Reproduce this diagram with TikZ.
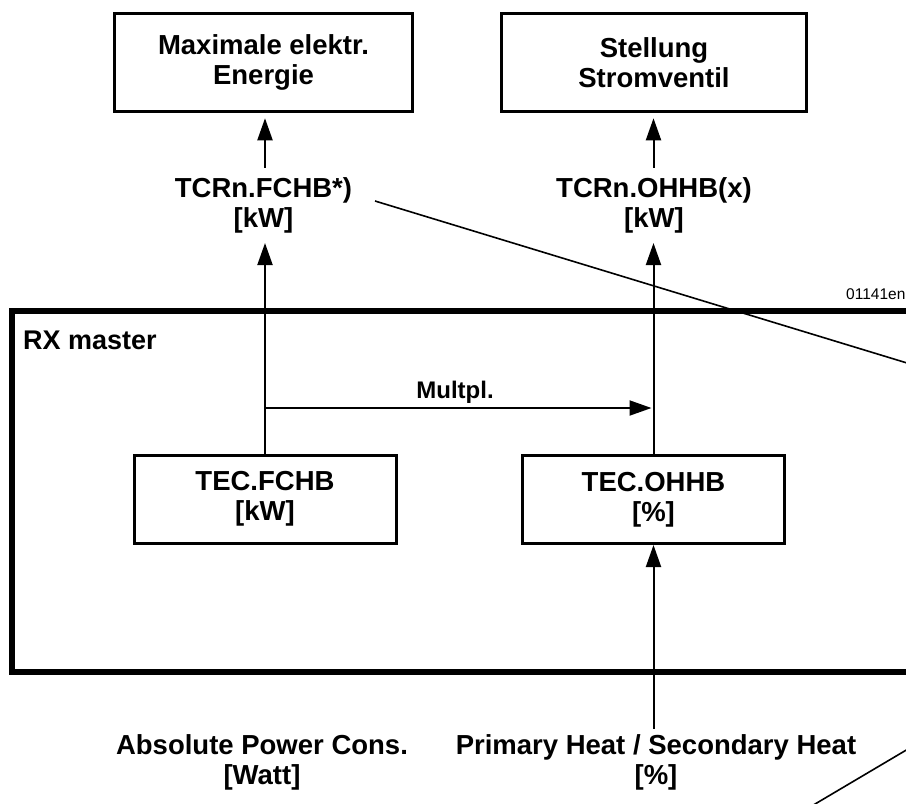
\documentclass[tikz,border=0pt]{standalone}
\usepackage{fontspec}
\setmainfont{Liberation Sans}
\usetikzlibrary{arrows.meta}
\begin{document}
\begin{tikzpicture}[x=1pt,y=-1pt,
  lab/.style={font=\bfseries\fontsize{27.5}{30}\selectfont, align=center, inner sep=0pt},
  topbox/.style={lab, draw, line width=3.5pt, minimum height=98pt},
  inbox/.style={lab, draw, line width=3pt, minimum height=88pt, minimum width=262pt},
  arr/.style={line width=2pt, -{Triangle[length=22pt,width=15pt]}},
  diag/.style={line width=1.6pt}
]
\useasboundingbox (0,0) rectangle (906,804);
\clip (0,0) rectangle (906,804);

% RX master frame (right side cut by picture edge)
\node[draw, line width=6pt, inner sep=0pt, minimum width=918pt, minimum height=361pt] (rx) at (471,491.5) {};
\node[font=\bfseries\fontsize{27}{30}\selectfont, anchor=base west, inner sep=0pt] (rxl) at (23,349) {RX master};
\node[font=\fontsize{15.5}{18}\selectfont, anchor=base west, inner sep=0pt] (code) at (846,299) {01141en};

% top boxes
\node[topbox, minimum width=298pt] (b1) at (263.5,62.5) {Maximale elektr.\\Energie};
\node[topbox, minimum width=305pt] (b2) at (654,62.5) {Stellung\\Stromventil};

% labels
\node[lab] (l1) at (263.5,205) {TCRn.FCHB*)\\{[kW]}};
\node[lab] (l2) at (654,205) {TCRn.OHHB(x)\\{[kW]}};

% inner boxes
\node[inbox] (f) at (265,499) {TEC.FCHB\\{[kW]}};
\node[inbox] (o) at (653.5,499.5) {TEC.OHHB\\{[\%]}};

% bottom labels
\node[lab] (a) at (262,762) {Absolute Power Cons.\\{[Watt]}};
\node[lab] (p) at (656,762) {Primary Heat / Secondary Heat\\{[\%]}};

% arrows
\draw[arr, shorten <=9pt, shorten >=5pt] (l1.north -| f.north) -- (b1.south -| f.north);
\draw[arr, shorten <=9pt, shorten >=5pt] (l2.north -| o.north) -- (b2.south -| o.north);
\draw[arr, shorten >=10pt] (f.north) -- (f.north |- l1.south);
\draw[arr, shorten >=10pt] (o.north) -- (o.north |- l2.south);
\draw[arr, shorten <=5pt] (o.south |- p.north) -- (o.south);

\coordinate (my) at (0,408);
\draw[arr, shorten >=2pt] (f.north |- my) -- (o.north |- my);
\node[font=\bfseries\fontsize{24}{28}\selectfont, anchor=base, inner sep=0pt] (mu) at (455,398) {Multpl.};

% leader lines to the (cut-off) footnote
\coordinate (d1s) at (375,201);
\coordinate (d1e) at (930,370);
\draw[diag] (d1s) -- (d1e);
\coordinate (d2s) at (810,807);
\coordinate (d2e) at (930,736);
\draw[diag] (d2s) -- (d2e);
\end{tikzpicture}
\end{document}
